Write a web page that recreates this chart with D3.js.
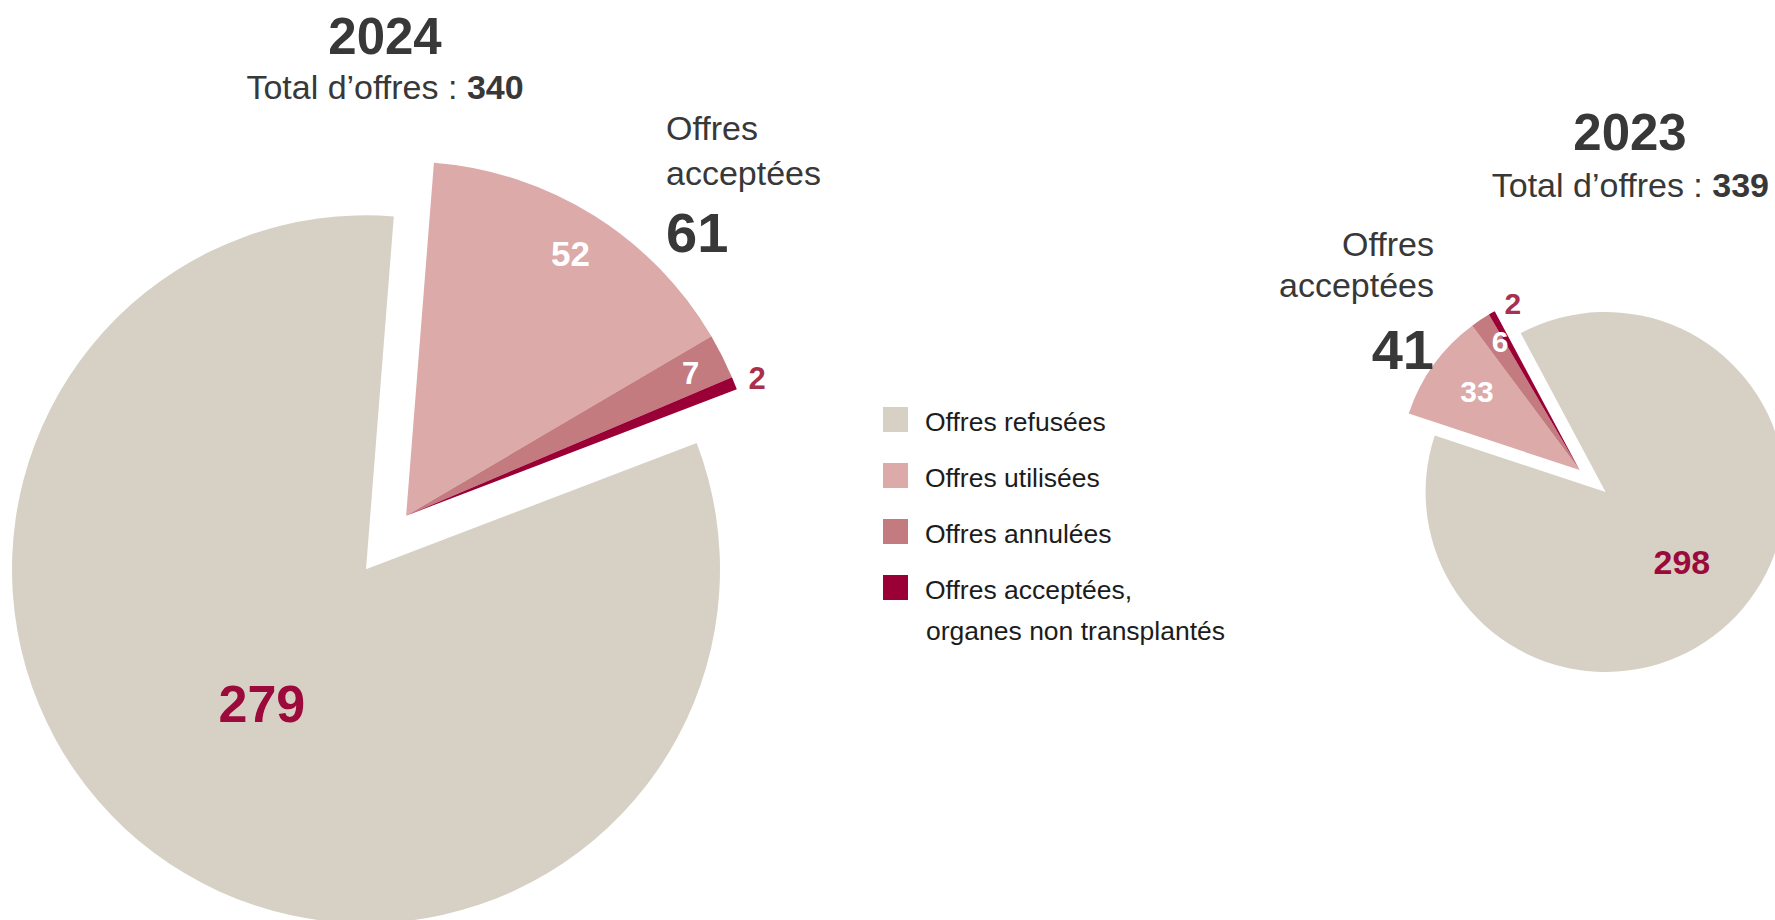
<!DOCTYPE html>
<html><head><meta charset="utf-8">
<script src="https://cdn.jsdelivr.net/npm/d3@7"></script>
<style>
body{margin:0;background:#fff}
svg{display:block}
text{font-family:"Liberation Sans",Arial,Helvetica,sans-serif}
</style>
</head><body>
<svg id="c" width="1775" height="920"></svg>
<script>
// ---- data ----
const categories = ["Offres refusées","Offres utilisées","Offres annulées","Offres acceptées, organes non transplantés"];
const legendLines = [["Offres refusées"],["Offres utilisées"],["Offres annulées"],["Offres acceptées,","organes non transplantés"]];
const years = ["2024","2023"];
const totals = [340, 339];
const acceptedTotals = [61, 41];
const values2024 = [279, 52, 7, 2];
const values2023 = [298, 33, 6, 2];
const colors = ["#d7d1c5","#dbaaa9","#c47b7f","#9a0036"];
const labelColors = ["#9b0a3a","#ffffff","#ffffff","#a8304c"];

// ---- layout ----
const svg = d3.select("#c");
const deg = Math.PI/180;
const pies = [
  {year:years[0], total:totals[0], accN:acceptedTotals[0], values:values2024,
   cx:366, cy:569.3, r:354, explode:67, accMid:36.8,
   lblR:[0.48,0.875,0.9,1.065], lblDA:[1,0,0,0.6], lblSize:[52,35,31,31],
   title:{x:385, y:54, size:51}, sub:{x:385, y:99, size:34, anchor:"middle"},
   acc:{x:666, y:[140,185], ny:252, anchor:"start"}},
  {year:years[1], total:totals[1], accN:acceptedTotals[1], values:values2023,
   cx:1605.6, cy:492, r:180, explode:34, accMid:-49.9,
   lblR:[0.575,0.72,0.84,1.0], lblDA:[2.4,1.8,1.7,7.4], lblSize:[34,30,30,30],
   title:{x:1630, y:150, size:51}, sub:{x:1769, y:197, size:34, anchor:"end"},
   acc:{x:1434, y:[256,297], ny:369, anchor:"end"}}
];

const order = [1,2,3,0]; // accepted sub-slices first (clockwise), then refused

pies.forEach((p,pi) => {
  const accSpan = p.accN / p.total * 360;
  const start = (p.accMid - accSpan/2) * deg;
  const pie = d3.pie().sort(null).value(d => d.v).startAngle(start).endAngle(start + 2*Math.PI);
  const arcs = pie(order.map(i => ({i:i, v:p.values[i]})));
  const arc = d3.arc().innerRadius(0).outerRadius(p.r);
  const ox = Math.sin(p.accMid*deg)*p.explode, oy = -Math.cos(p.accMid*deg)*p.explode;

  const g = svg.append("g").attr("transform", `translate(${p.cx},${p.cy})`);
  g.selectAll("path").data(arcs).join("path")
    .attr("d", arc)
    .attr("fill", d => colors[d.data.i])
    .attr("transform", d => d.data.i === 0 ? null : `translate(${ox},${oy})`);

  g.selectAll("text.val").data(arcs).join("text")
    .attr("class","val")
    .attr("transform", d => {
      const k = d.data.i;
      const a = (d.startAngle + d.endAngle)/2 + p.lblDA[k]*deg;
      const rr = p.lblR[k]*p.r;
      const dx = k === 0 ? 0 : ox, dy = k === 0 ? 0 : oy;
      return `translate(${dx + Math.sin(a)*rr},${dy - Math.cos(a)*rr})`;
    })
    .attr("text-anchor","middle").attr("dy","0.36em")
    .attr("font-weight","bold")
    .attr("font-size", d => p.lblSize[d.data.i])
    .attr("fill", d => labelColors[d.data.i])
    .text(d => d.data.v);

  // title
  svg.append("text").attr("x",p.title.x).attr("y",p.title.y)
    .attr("text-anchor","middle").attr("font-weight","bold")
    .attr("font-size",p.title.size).attr("fill","#383838").text(p.year);
  const st = svg.append("text").attr("x",p.sub.x).attr("y",p.sub.y)
    .attr("text-anchor",p.sub.anchor).attr("font-size",p.sub.size).attr("fill","#383838");
  st.append("tspan").text("Total d’offres : ");
  st.append("tspan").attr("font-weight","bold").text(p.total);

  // accepted annotation
  ["Offres","acceptées"].forEach((t,j) => {
    svg.append("text").attr("x",p.acc.x).attr("y",p.acc.y[j])
      .attr("text-anchor",p.acc.anchor).attr("font-size",34).attr("fill","#383838").text(t);
  });
  svg.append("text").attr("x",p.acc.x).attr("y",p.acc.ny)
    .attr("text-anchor",p.acc.anchor).attr("font-size",56).attr("font-weight","bold")
    .attr("fill","#383838").text(p.accN);
});

// legend
const lg = svg.append("g").attr("transform","translate(883,407)");
const row = lg.selectAll("g").data(categories).join("g")
  .attr("transform",(d,i) => `translate(0,${i*56})`);
row.append("rect").attr("width",25).attr("height",25).attr("fill",(d,i) => colors[i]);
row.each(function(d,i){
  legendLines[i].forEach((t,j) => {
    d3.select(this).append("text").attr("x", j===0 ? 42 : 43).attr("y", 24 + j*41)
      .attr("font-size",26.5).attr("fill","#1c1c1c").text(t);
  });
});
</script>
</body></html>
